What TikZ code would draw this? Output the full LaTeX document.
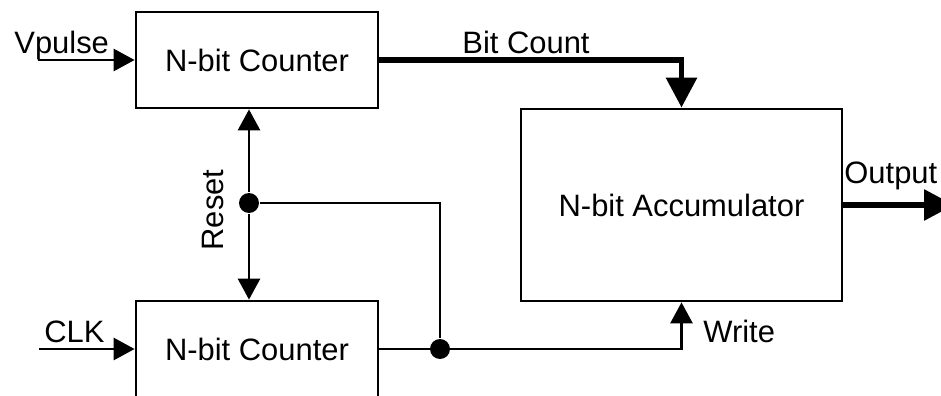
\documentclass[tikz,border=0pt]{standalone}
\usepackage{fontspec}
\setmainfont{Liberation Sans}
\usetikzlibrary{arrows.meta,positioning,calc}

\begin{document}
\begin{tikzpicture}
	[x=0.02cm,y=-0.02cm,line width=1.6pt,
	every node/.style={font=\fontsize{17.6}{20}\selectfont,inner sep=0pt},
	block/.style={draw,line width=1.6pt,minimum width=4.84cm,minimum height=1.92cm},
	tri/.style={-{Triangle[length=0.42cm,width=0.44cm]}},
	bigtri/.style={-{Triangle[length=0.6cm,width=0.6cm]}},
	bus/.style={line width=3.4pt},
	dot/.style={circle,fill,minimum size=0.4cm}]
	\clip (0,0) rectangle (941,396);
	\node[block] (cnt) at (257,60) {N-bit Counter};
	\node[block] (clkcnt) at (257,349) {N-bit Counter};
	\node[block,minimum width=6.42cm,minimum height=3.84cm] (acc) at (681.5,205) {N-bit Accumulator};
	\coordinate (vp) at (38,60);
	\coordinate (clk) at (39,349);
	\coordinate (out) at (954,205);
	\node[dot] (rj) at (249,203) {};
	\node[dot] (wj) at (440,349) {};
	\path
	\foreach \startNode/\endNode in {vp/cnt.west,clk/clkcnt.west}
	{
		(\startNode) edge[tri] (\endNode)
	};
	\draw[tri] (rj) -- (rj |- cnt.south);
	\draw[tri] (rj) -- (rj |- clkcnt.north);
	\draw (rj) -| (wj);
	\draw[tri] (clkcnt.east) -| (acc.south);
	\draw[bus,bigtri] (cnt.east) -| (acc.north);
	\draw[bus,bigtri] (acc.east) -- (out);
	\node[anchor=base west] (vplbl) at (13,53) {Vpulse};
	\node[anchor=base west] (clklbl) at (43,342) {CLK};
	\node[anchor=base west] (bclbl) at (461,53) {Bit Count};
	\node[anchor=base west] (outlbl) at (843,183) {Output};
	\node[anchor=base west] (wrlbl) at (702,342) {Write};
	\node[anchor=base,rotate=90] (rstlbl) at (223,210) {Reset};
\end{tikzpicture}
\end{document}
